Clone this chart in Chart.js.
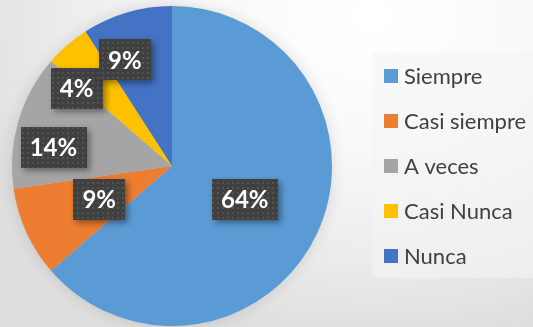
<!DOCTYPE html>
<html>
<head>
<meta charset="utf-8">
<script src="https://cdn.jsdelivr.net/npm/chart.js@4.4.1/dist/chart.umd.min.js"></script>
<style>
  html, body { margin: 0; padding: 0; }
  body {
    width: 533px; height: 327px; overflow: hidden;
    background: radial-gradient(ellipse 80% 100% at 70% 5%, #ffffff 0%, #f9f9f9 40%, #ebebeb 75%, #dedede 100%);
  }
  #wrap { position: relative; width: 533px; height: 327px; }
</style>
</head>
<body>
<div id="wrap"><canvas id="chart" width="533" height="327"></canvas></div>
<script>
// responses (counts)
const categories = ['Siempre', 'Casi siempre', 'A veces', 'Casi Nunca', 'Nunca'];
const counts = [14, 2, 3, 1, 2];
const percentLabels = ['64%', '9%', '14%', '4%', '9%'];
const colors = ['#5B9BD5', '#ED7D31', '#A5A5A5', '#FFC000', '#4472C4'];

// where each label sits: fraction of radius, angle nudge in degrees
const labelSpots = [
  { f: 0.50, da: 0 },
  { f: 0.50, da: 0 },
  { f: 0.75, da: -7.6 },
  { f: 0.77, da: -9.9 },
  { f: 0.725, da: -7.6 }
];

function dotPattern(ctx) {
  const c = document.createElement('canvas');
  c.width = 5; c.height = 5;
  const p = c.getContext('2d');
  p.fillStyle = '#404040';
  p.fillRect(0, 0, 5, 5);
  p.fillStyle = '#535353';
  p.fillRect(2, 2, 2, 2);
  return ctx.createPattern(c, 'repeat');
}

const pieShadow = {
  id: 'pieShadow',
  beforeDatasetsDraw(chart) {
    const arc = chart.getDatasetMeta(0).data[0];
    if (!arc) return;
    const ctx = chart.ctx;
    ctx.save();
    ctx.shadowColor = 'rgba(0,0,0,0.14)';
    ctx.shadowBlur = 16;
    ctx.fillStyle = '#cccccc';
    ctx.beginPath();
    ctx.arc(arc.x, arc.y, arc.outerRadius - 1, 0, Math.PI * 2);
    ctx.fill();
    ctx.restore();
  }
};

const boxLabels = {
  id: 'boxLabels',
  afterDatasetsDraw(chart) {
    const ctx = chart.ctx;
    const pat = dotPattern(ctx);
    ctx.save();
    ctx.font = 'bold 24px Lato';
    ctx.textAlign = 'center';
    ctx.textBaseline = 'middle';
    chart.getDatasetMeta(0).data.forEach((arc, i) => {
      const spot = labelSpots[i];
      const mid = (arc.startAngle + arc.endAngle) / 2 + spot.da * Math.PI / 180;
      const r = arc.outerRadius * spot.f;
      const x = arc.x + Math.cos(mid) * r;
      const y = arc.y + Math.sin(mid) * r;
      const text = percentLabels[i];
      const w = ctx.measureText(text).width + 18;
      const h = 41;
      ctx.save();
      ctx.shadowColor = 'rgba(0,0,0,0.4)';
      ctx.shadowBlur = 6;
      ctx.shadowOffsetX = 3;
      ctx.shadowOffsetY = 3;
      ctx.fillStyle = pat;
      ctx.fillRect(Math.round(x - w / 2), Math.round(y - h / 2), Math.round(w), h);
      ctx.restore();
      ctx.fillStyle = '#ffffff';
      ctx.fillText(text, x, y + 1);
    });
    ctx.restore();
  }
};

const sideLegend = {
  id: 'sideLegend',
  afterDraw(chart) {
    const ctx = chart.ctx;
    ctx.save();
    ctx.fillStyle = 'rgba(244,244,244,0.55)';
    ctx.fillRect(372, 53, 161, 225);
    ctx.font = '22px Lato';
    ctx.textBaseline = 'middle';
    categories.forEach((name, i) => {
      const y = 76 + i * 45;
      ctx.fillStyle = colors[i];
      ctx.fillRect(384, y - 7, 14, 14);
      ctx.fillStyle = '#404040';
      ctx.fillText(name, 404, y + 1);
    });
    ctx.restore();
  }
};

new Chart(document.getElementById('chart'), {
  type: 'pie',
  data: {
    labels: categories,
    datasets: [{
      data: counts,
      backgroundColor: colors,
      borderWidth: 0
    }]
  },
  options: {
    responsive: false,
    animation: false,
    layout: { padding: { left: 12, top: 6, right: 201, bottom: 1 } },
    plugins: {
      legend: { display: false },
      tooltip: { enabled: false }
    }
  },
  plugins: [pieShadow, boxLabels, sideLegend]
});
</script>
</body>
</html>
